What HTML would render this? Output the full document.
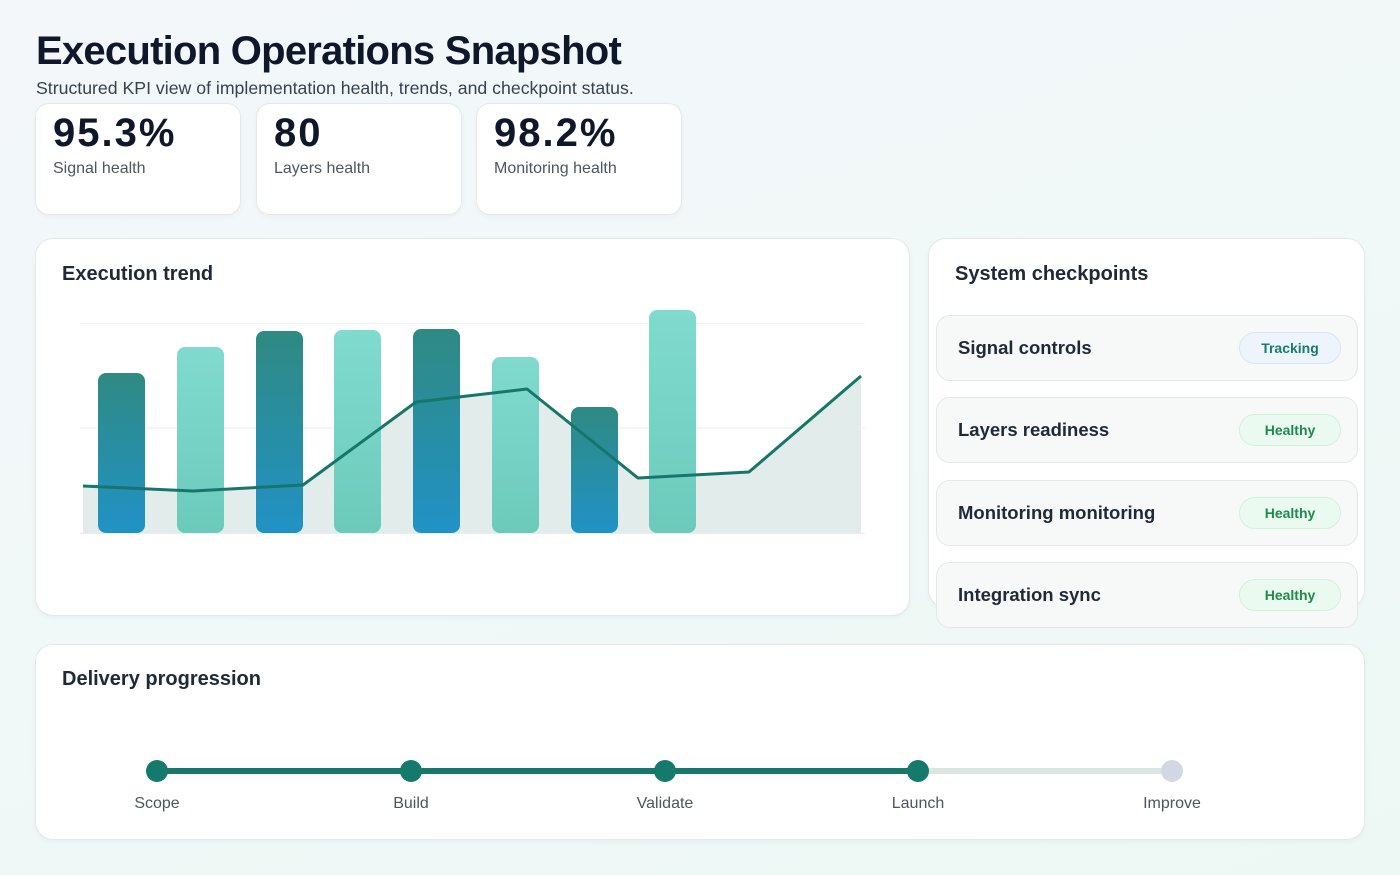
<!DOCTYPE html>
<html><head><meta charset="utf-8"><style>
*{box-sizing:border-box;margin:0;padding:0}
html,body{width:1400px;height:875px;overflow:hidden}
body{font-family:"Liberation Sans",sans-serif;background:linear-gradient(160deg,#f3f7fa 0%,#f1f8f8 50%,#edf8f4 100%);position:relative;color:#111827}
.abs{position:absolute}
h1{position:absolute;left:36px;top:28px;font-size:40px;font-weight:700;letter-spacing:-0.75px;color:#0f172a;line-height:46px;white-space:nowrap}
.sub{position:absolute;left:36px;top:78px;font-size:17.7px;color:#374151;letter-spacing:0;white-space:nowrap;line-height:20px}
.card{position:absolute;background:#fff;border:1.5px solid #e2eae8;border-radius:16px;box-shadow:0 2px 6px rgba(30,60,60,0.04)}
.kpi{top:103px;width:206px;height:112px;border-radius:14px}
.kv{position:absolute;left:17px;top:7px;font-size:40px;font-weight:700;color:#0f172a;letter-spacing:2px;line-height:44px}
.kl{position:absolute;left:17px;top:55px;font-size:16px;color:#4b5563;line-height:20px}
.ct{position:absolute;font-size:20px;font-weight:700;color:#1f2937;line-height:24px;white-space:nowrap}
.item{position:absolute;left:936px;width:422px;height:66px;background:#f7f9f9;border:1.5px solid #e2e8e7;border-radius:14px}
.it{position:absolute;left:21px;top:20px;font-size:18.5px;font-weight:700;color:#1f2937;line-height:24px;white-space:nowrap}
.badge{position:absolute;left:302px;top:16px;width:102px;height:32px;border-radius:16px;font-size:14px;font-weight:700;text-align:center;line-height:30px}
.trk{background:#edf4fc;border:1.5px solid #d6e6f5;color:#1b7a6b}
.hl{background:#ebfaf1;border:1.5px solid #d3f0de;color:#1f8a4c}
.lbl{position:absolute;top:795px;font-size:16px;color:#4b5563;width:120px;margin-left:-60px;text-align:center;line-height:18px}
</style></head><body>
<h1>Execution Operations Snapshot</h1>
<div class="sub">Structured KPI view of implementation health, trends, and checkpoint status.</div>

<div class="card kpi" style="left:35px"><div class="kv">95.3%</div><div class="kl">Signal health</div></div>
<div class="card kpi" style="left:256px"><div class="kv">80</div><div class="kl">Layers health</div></div>
<div class="card kpi" style="left:476px"><div class="kv">98.2%</div><div class="kl">Monitoring health</div></div>

<div class="card" style="left:35px;top:238px;width:875px;height:378px;border-radius:18px"></div>
<div class="ct" style="left:62px;top:262px">Execution trend</div>

<div class="card" style="left:928px;top:238px;width:437px;height:370px;border-radius:18px"></div>
<div class="ct" style="left:955px;top:262px">System checkpoints</div>
<div class="item" style="top:315px"><div class="it">Signal controls</div><div class="badge trk">Tracking</div></div>
<div class="item" style="top:397px"><div class="it">Layers readiness</div><div class="badge hl">Healthy</div></div>
<div class="item" style="top:480px"><div class="it">Monitoring monitoring</div><div class="badge hl">Healthy</div></div>
<div class="item" style="top:562px"><div class="it">Integration sync</div><div class="badge hl">Healthy</div></div>

<div class="card" style="left:35px;top:644px;width:1330px;height:196px;border-radius:18px"></div>
<div class="ct" style="left:62px;top:667px">Delivery progression</div>

<svg class="abs" style="left:0;top:0" width="1400" height="875" viewBox="0 0 1400 875">
<defs>
<linearGradient id="dk" x1="0" y1="0" x2="0" y2="1"><stop offset="0" stop-color="#2f8a82"/><stop offset="1" stop-color="#2192c6"/></linearGradient>
<linearGradient id="lt" x1="0" y1="0" x2="0" y2="1"><stop offset="0" stop-color="#80dbce"/><stop offset="1" stop-color="#6ccabb"/></linearGradient>
</defs>
<line x1="80" y1="323.5" x2="865" y2="323.5" stroke="#eef1f1" stroke-width="1.2"/>
<line x1="80" y1="428" x2="865" y2="428" stroke="#eef1f1" stroke-width="1.2"/>
<line x1="80" y1="533.5" x2="865" y2="533.5" stroke="#e9eeee" stroke-width="1.2"/>
<polygon points="83,486 193,491 303,485 416,402 527,389 638,478 749,472 861,376 861,533 83,533" fill="#e2ecea"/>
<rect x="98" y="373" width="47" height="160" rx="8" fill="url(#dk)"/>
<rect x="177" y="347" width="47" height="186" rx="8" fill="url(#lt)"/>
<rect x="256" y="331" width="47" height="202" rx="8" fill="url(#dk)"/>
<rect x="334" y="330" width="47" height="203" rx="8" fill="url(#lt)"/>
<rect x="413" y="329" width="47" height="204" rx="8" fill="url(#dk)"/>
<rect x="492" y="357" width="47" height="176" rx="8" fill="url(#lt)"/>
<rect x="571" y="407" width="47" height="126" rx="8" fill="url(#dk)"/>
<rect x="649" y="310" width="47" height="223" rx="8" fill="url(#lt)"/>
<polyline points="83,486 193,491 303,485 416,402 527,389 638,478 749,472 861,376" fill="none" stroke="#17766a" stroke-width="3" stroke-linejoin="round"/>

<line x1="918" y1="771" x2="1172" y2="771" stroke="#d9e7e3" stroke-width="6"/>
<line x1="157" y1="771" x2="918" y2="771" stroke="#18766b" stroke-width="6"/>
<circle cx="157" cy="771" r="11" fill="#157a6c"/>
<circle cx="411" cy="771" r="11" fill="#157a6c"/>
<circle cx="665" cy="771" r="11" fill="#157a6c"/>
<circle cx="918" cy="771" r="11" fill="#157a6c"/>
<circle cx="1172" cy="771" r="11" fill="#d2d8e3"/>
</svg>
<div class="lbl" style="left:157px">Scope</div>
<div class="lbl" style="left:411px">Build</div>
<div class="lbl" style="left:665px">Validate</div>
<div class="lbl" style="left:918px">Launch</div>
<div class="lbl" style="left:1172px">Improve</div>
</body></html>
